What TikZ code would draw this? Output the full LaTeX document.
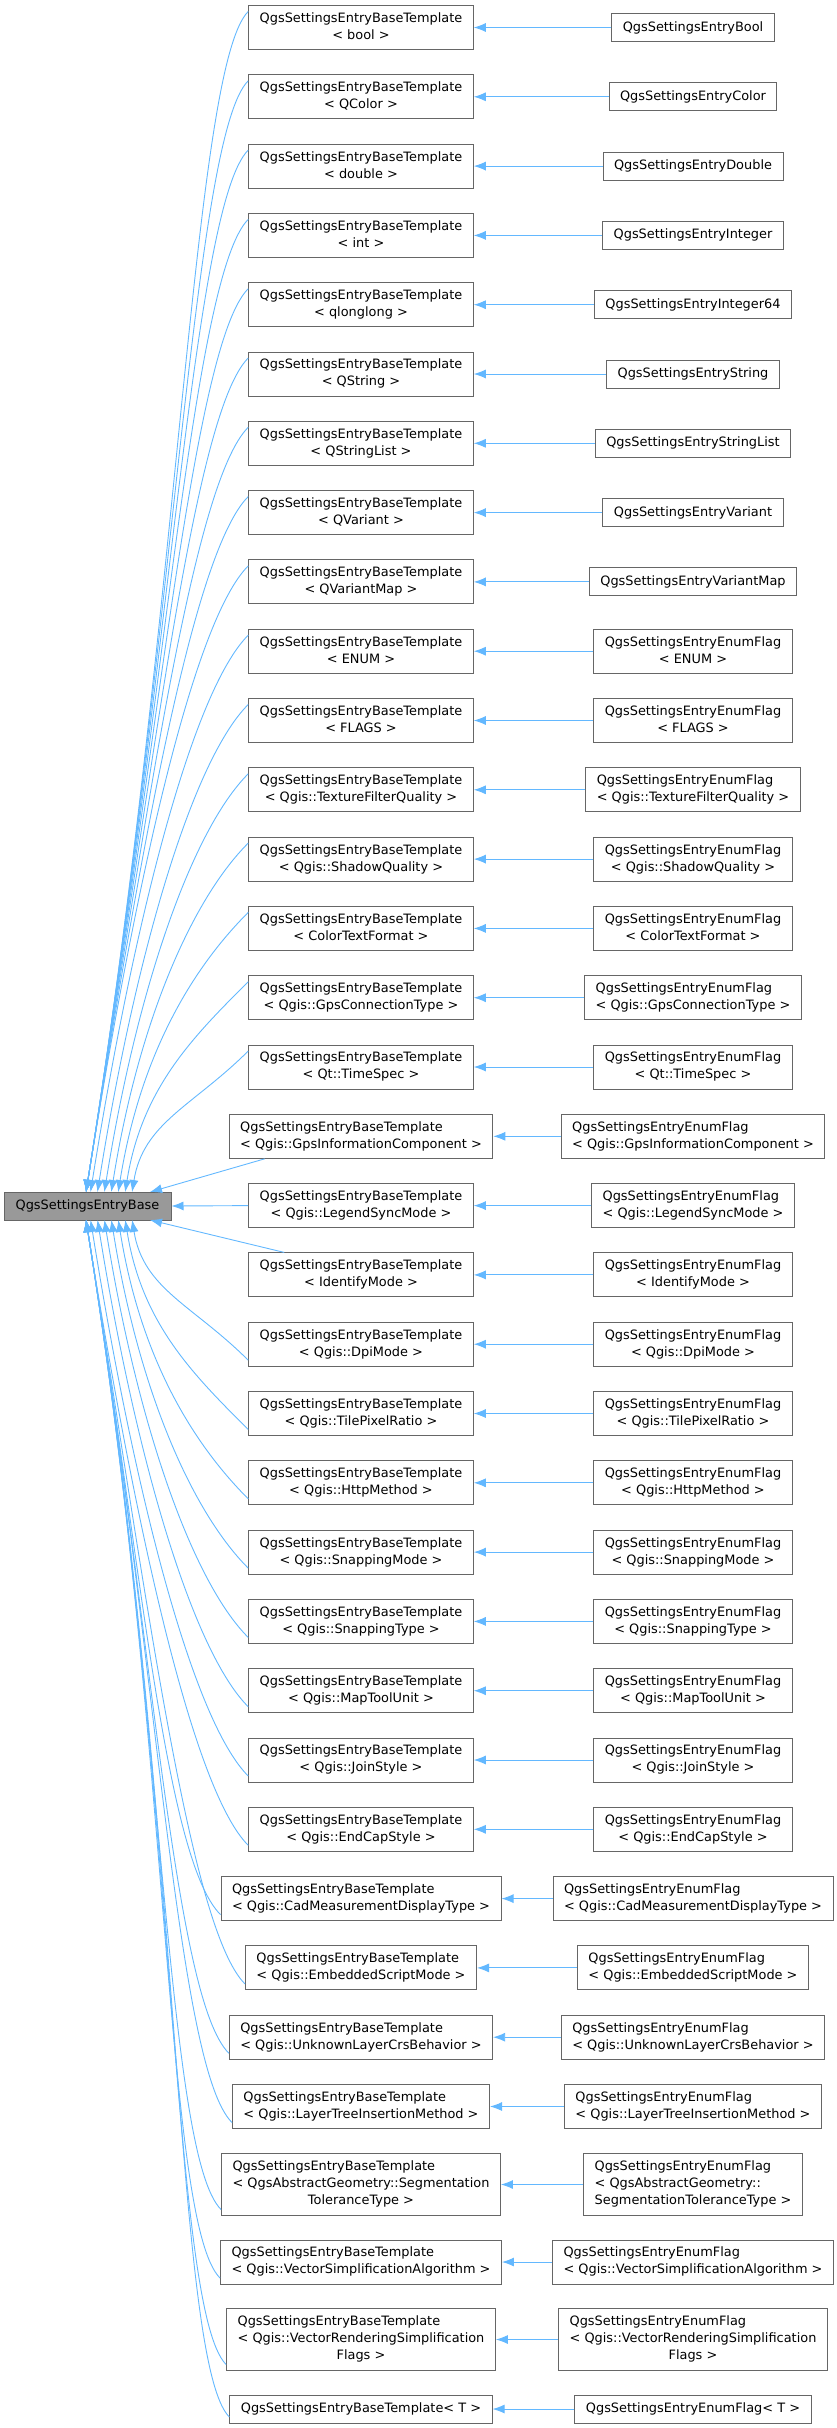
\documentclass[tikz,border=0pt]{standalone}
\usepackage{fontspec}
\setmainfont{DejaVu Sans}
\usetikzlibrary{calc,arrows.meta}
\definecolor{edgec}{HTML}{63B8FF}
\definecolor{bordc}{HTML}{666666}
\newcommand\tl[2]{\begin{tabular}{@{}c@{}}\multicolumn{1}{@{}l@{}}{#1}\\#2\end{tabular}}
\newcommand\tll[1]{\begin{tabular}{@{}l@{}}#1\end{tabular}}
\newcommand\QB{QgsSettingsEntryBaseTemplate}
\newcommand\QE{QgsSettingsEntryEnumFlag}
\tikzset{
  box/.style={draw=bordc, line width=1pt, fill=white, inner xsep=11pt, inner ysep=0pt, font=\fontsize{12.9}{17}\selectfont},
  edge/.style={draw=edgec, line width=0.9pt, -{Latex[length=12pt,width=9pt]}},
}
% #1 idx, #2 y, #3 mid text, #4 right text, #5 mid height, #6 right height
\newcommand\rowx[6]{%
  \node[box, minimum height=#5pt] (m#1) at (361,#2) {#3};
  \node[box, minimum height=#6pt] (r#1) at (693,#2) {#4};
  \draw[edge] (r#1.west) -- (m#1.east);
  \pgfmathsetmacro\dyv{#2-1206}%
  \pgfmathsetmacro\ady{abs(\dyv)}%
  \pgfmathsetmacro\sg{\dyv>0?1:-1}%
  \pgfmathtruncatemacro\cs{\ady<5?0:(\ady<100?1:2)}%
  \ifcase\cs
    \draw[edge] (m#1.west) -- (base.east);
  \or
    \ifdim\sg pt>0pt
      \draw[edge] ($(m#1.north west)+(36,0)$) -- (150,1220);
    \else
      \draw[edge] ($(m#1.south west)+(36,0)$) -- (150,1192);
    \fi
  \or
    \pgfmathsetmacro\ex{86+60*max(0,1-\ady/600)}%
    \pgfmathsetmacro\yE{1206+\sg*14}%
    \pgfmathsetmacro\offs{\sg*(#5/2-6)}%
    \pgfmathsetmacro\ctx{\ex+0.08*\ady}%
    \pgfmathsetmacro\cty{\yE+\sg*0.5*\ady}%
    \draw[edge] ($(m#1.west)+(0,\offs)$) .. controls ($(m#1.west)+(-55,\offs-\sg*55)$) and (\ctx,\cty) .. (\ex,\yE);
  \fi
}
\begin{document}
\begin{tikzpicture}[x=1pt,y=-1pt]
\useasboundingbox (0,0) rectangle (837,2428);
\node[box, fill={rgb,255:red,153;green,153;blue,153}, minimum width=167pt, minimum height=28pt, inner xsep=0pt] (base) at (87.5,1206) {QgsSettingsEntryBase};
\rowx{0}{27.5}{\tl{\QB}{< bool >}}{QgsSettingsEntryBool}{44}{28}
\rowx{1}{96.8}{\tl{\QB}{< QColor >}}{QgsSettingsEntryColor}{44}{28}
\rowx{2}{166.1}{\tl{\QB}{< double >}}{QgsSettingsEntryDouble}{44}{28}
\rowx{3}{235.4}{\tl{\QB}{< int >}}{QgsSettingsEntryInteger}{44}{28}
\rowx{4}{304.7}{\tl{\QB}{< qlonglong >}}{QgsSettingsEntryInteger64}{44}{28}
\rowx{5}{374}{\tl{\QB}{< QString >}}{QgsSettingsEntryString}{44}{28}
\rowx{6}{443.3}{\tl{\QB}{< QStringList >}}{QgsSettingsEntryStringList}{44}{28}
\rowx{7}{512.6}{\tl{\QB}{< QVariant >}}{QgsSettingsEntryVariant}{44}{28}
\rowx{8}{581.9}{\tl{\QB}{< QVariantMap >}}{QgsSettingsEntryVariantMap}{44}{28}
\rowx{9}{651.2}{\tl{\QB}{< ENUM >}}{\tl{\QE}{< ENUM >}}{44}{44}
\rowx{10}{720.5}{\tl{\QB}{< FLAGS >}}{\tl{\QE}{< FLAGS >}}{44}{44}
\rowx{11}{789.8}{\tl{\QB}{< Qgis::TextureFilterQuality >}}{\tl{\QE}{< Qgis::TextureFilterQuality >}}{44}{44}
\rowx{12}{859.1}{\tl{\QB}{< Qgis::ShadowQuality >}}{\tl{\QE}{< Qgis::ShadowQuality >}}{44}{44}
\rowx{13}{928.4}{\tl{\QB}{< ColorTextFormat >}}{\tl{\QE}{< ColorTextFormat >}}{44}{44}
\rowx{14}{997.7}{\tl{\QB}{< Qgis::GpsConnectionType >}}{\tl{\QE}{< Qgis::GpsConnectionType >}}{44}{44}
\rowx{15}{1067}{\tl{\QB}{< Qt::TimeSpec >}}{\tl{\QE}{< Qt::TimeSpec >}}{44}{44}
\rowx{16}{1136.3}{\tl{\QB}{< Qgis::GpsInformationComponent >}}{\tl{\QE}{< Qgis::GpsInformationComponent >}}{44}{44}
\rowx{17}{1205.6}{\tl{\QB}{< Qgis::LegendSyncMode >}}{\tl{\QE}{< Qgis::LegendSyncMode >}}{44}{44}
\rowx{18}{1274.9}{\tl{\QB}{< IdentifyMode >}}{\tl{\QE}{< IdentifyMode >}}{44}{44}
\rowx{19}{1344.2}{\tl{\QB}{< Qgis::DpiMode >}}{\tl{\QE}{< Qgis::DpiMode >}}{44}{44}
\rowx{20}{1413.5}{\tl{\QB}{< Qgis::TilePixelRatio >}}{\tl{\QE}{< Qgis::TilePixelRatio >}}{44}{44}
\rowx{21}{1482.8}{\tl{\QB}{< Qgis::HttpMethod >}}{\tl{\QE}{< Qgis::HttpMethod >}}{44}{44}
\rowx{22}{1552.1}{\tl{\QB}{< Qgis::SnappingMode >}}{\tl{\QE}{< Qgis::SnappingMode >}}{44}{44}
\rowx{23}{1621.4}{\tl{\QB}{< Qgis::SnappingType >}}{\tl{\QE}{< Qgis::SnappingType >}}{44}{44}
\rowx{24}{1690.7}{\tl{\QB}{< Qgis::MapToolUnit >}}{\tl{\QE}{< Qgis::MapToolUnit >}}{44}{44}
\rowx{25}{1760}{\tl{\QB}{< Qgis::JoinStyle >}}{\tl{\QE}{< Qgis::JoinStyle >}}{44}{44}
\rowx{26}{1829.3}{\tl{\QB}{< Qgis::EndCapStyle >}}{\tl{\QE}{< Qgis::EndCapStyle >}}{44}{44}
\rowx{27}{1898.6}{\tl{\QB}{< Qgis::CadMeasurementDisplayType >}}{\tl{\QE}{< Qgis::CadMeasurementDisplayType >}}{44}{44}
\rowx{28}{1967.9}{\tl{\QB}{< Qgis::EmbeddedScriptMode >}}{\tl{\QE}{< Qgis::EmbeddedScriptMode >}}{44}{44}
\rowx{29}{2037.2}{\tl{\QB}{< Qgis::UnknownLayerCrsBehavior >}}{\tl{\QE}{< Qgis::UnknownLayerCrsBehavior >}}{44}{44}
\rowx{30}{2106.5}{\tl{\QB}{< Qgis::LayerTreeInsertionMethod >}}{\tl{\QE}{< Qgis::LayerTreeInsertionMethod >}}{44}{44}
\rowx{31}{2184.5}{\tl{\QB}{< QgsAbstractGeometry::Segmentation\\ToleranceType >}}{\tll{\QE\\< QgsAbstractGeometry::\\SegmentationToleranceType >}}{62}{62}
\rowx{32}{2262}{\tl{\QB}{< Qgis::VectorSimplificationAlgorithm >}}{\tl{\QE}{< Qgis::VectorSimplificationAlgorithm >}}{44}{44}
\rowx{33}{2339.5}{\tl{\QB}{< Qgis::VectorRenderingSimplification\\Flags >}}{\tl{\QE}{< Qgis::VectorRenderingSimplification\\Flags >}}{62}{62}
\rowx{34}{2409}{QgsSettingsEntryBaseTemplate< T >}{QgsSettingsEntryEnumFlag< T >}{28}{28}
\end{tikzpicture}
\end{document}
